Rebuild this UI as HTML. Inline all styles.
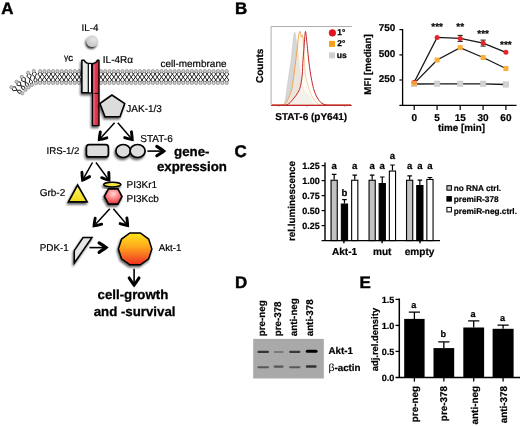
<!DOCTYPE html>
<html><head><meta charset="utf-8"><title>Figure</title>
<style>
html,body{margin:0;padding:0;background:#fff;}
svg{display:block;font-family:"Liberation Sans",Arial,Helvetica,sans-serif;fill:#000;text-rendering:geometricPrecision;filter:blur(0.35px);}
</style></head><body>
<svg width="520" height="427" viewBox="0 0 520 427">
<defs>
<filter id="sh" x="-40%" y="-40%" width="180%" height="180%"><feGaussianBlur in="SourceAlpha" stdDeviation="1.3"/><feOffset dx="-1.3" dy="1.5"/><feComponentTransfer><feFuncA type="linear" slope="0.62"/></feComponentTransfer><feMerge><feMergeNode/><feMergeNode in="SourceGraphic"/></feMerge></filter>
<linearGradient id="gy" x1="0" y1="0" x2="0" y2="1"><stop offset="0" stop-color="#fff668"/><stop offset="1" stop-color="#f0d91a"/></linearGradient>
<linearGradient id="gakt" x1="0" y1="0" x2="0" y2="1"><stop offset="0" stop-color="#ffe61e"/><stop offset="0.45" stop-color="#ffa51e"/><stop offset="1" stop-color="#ee2d24"/></linearGradient>
<radialGradient id="ghex" cx="0.5" cy="0.32" r="0.72"><stop offset="0" stop-color="#ffd6d4"/><stop offset="0.35" stop-color="#f99"/><stop offset="1" stop-color="#e2262c"/></radialGradient>
<radialGradient id="gil4" cx="0.6" cy="0.35" r="0.7"><stop offset="0" stop-color="#e6e6e6"/><stop offset="1" stop-color="#c4c4c4"/></radialGradient>
<linearGradient id="gred" x1="0" y1="0" x2="1" y2="0"><stop offset="0" stop-color="#ee4a64"/><stop offset="1" stop-color="#d8203c"/></linearGradient>
<filter id="sh2" x="-50%" y="-50%" width="200%" height="200%"><feGaussianBlur in="SourceAlpha" stdDeviation="1.2"/><feOffset dx="-1.5" dy="1.7"/><feComponentTransfer><feFuncA type="linear" slope="0.85"/></feComponentTransfer><feMerge><feMergeNode/><feMergeNode in="SourceGraphic"/></feMerge></filter>
<filter id="bl"><feGaussianBlur stdDeviation="0.7"/></filter>
</defs>
<rect width="520" height="427" fill="#fff"/>

<text x="1.3" y="14.0" font-size="16.9" font-weight="bold" text-anchor="start" stroke="#000" stroke-width="0.45">A</text>
<text x="234.9" y="14.0" font-size="16.9" font-weight="bold" text-anchor="start" stroke="#000" stroke-width="0.45">B</text>
<text x="234.6" y="157.2" font-size="16.9" font-weight="bold" text-anchor="start" stroke="#000" stroke-width="0.45">C</text>
<text x="235.1" y="287.5" font-size="16.9" font-weight="bold" text-anchor="start" stroke="#000" stroke-width="0.45">D</text>
<text x="359.5" y="287.5" font-size="16.9" font-weight="bold" text-anchor="start" stroke="#000" stroke-width="0.45">E</text>
<g id="membrane">
<path d="M40.10 71.15L37.95 74.10L40.10 77.05M40.10 71.15L42.25 74.10L40.10 77.05M40.10 82.95L42.25 80.00L40.10 77.05M40.10 82.95L37.95 80.00L40.10 77.05M44.44 71.15L42.29 74.10L44.44 77.05M44.44 71.15L46.59 74.10L44.44 77.05M44.44 82.95L46.59 80.00L44.44 77.05M44.44 82.95L42.29 80.00L44.44 77.05M48.77 71.15L46.62 74.10L48.77 77.05M48.77 71.15L50.92 74.10L48.77 77.05M48.77 82.95L50.92 80.00L48.77 77.05M48.77 82.95L46.62 80.00L48.77 77.05M53.11 71.15L50.96 74.10L53.11 77.05M53.11 71.15L55.26 74.10L53.11 77.05M53.11 82.95L55.26 80.00L53.11 77.05M53.11 82.95L50.96 80.00L53.11 77.05M57.45 71.15L55.30 74.10L57.45 77.05M57.45 71.15L59.60 74.10L57.45 77.05M57.45 82.95L59.60 80.00L57.45 77.05M57.45 82.95L55.30 80.00L57.45 77.05M61.79 71.15L59.64 74.10L61.79 77.05M61.79 71.15L63.94 74.10L61.79 77.05M61.79 82.95L63.94 80.00L61.79 77.05M61.79 82.95L59.64 80.00L61.79 77.05M66.12 71.15L63.97 74.10L66.12 77.05M66.12 71.15L68.27 74.10L66.12 77.05M66.12 82.95L68.27 80.00L66.12 77.05M66.12 82.95L63.97 80.00L66.12 77.05M70.46 71.15L68.31 74.10L70.46 77.05M70.46 71.15L72.61 74.10L70.46 77.05M70.46 82.95L72.61 80.00L70.46 77.05M70.46 82.95L68.31 80.00L70.46 77.05M74.80 71.15L72.65 74.10L74.80 77.05M74.80 71.15L76.95 74.10L74.80 77.05M74.80 82.95L76.95 80.00L74.80 77.05M74.80 82.95L72.65 80.00L74.80 77.05M79.13 71.15L76.98 74.10L79.13 77.05M79.13 71.15L81.28 74.10L79.13 77.05M79.13 82.95L81.28 80.00L79.13 77.05M79.13 82.95L76.98 80.00L79.13 77.05M83.47 71.15L81.32 74.10L83.47 77.05M83.47 71.15L85.62 74.10L83.47 77.05M83.47 82.95L85.62 80.00L83.47 77.05M83.47 82.95L81.32 80.00L83.47 77.05M87.81 71.15L85.66 74.10L87.81 77.05M87.81 71.15L89.96 74.10L87.81 77.05M87.81 82.95L89.96 80.00L87.81 77.05M87.81 82.95L85.66 80.00L87.81 77.05M92.15 71.15L90.00 74.10L92.15 77.05M92.15 71.15L94.30 74.10L92.15 77.05M92.15 82.95L94.30 80.00L92.15 77.05M92.15 82.95L90.00 80.00L92.15 77.05M96.48 71.15L94.33 74.10L96.48 77.05M96.48 71.15L98.63 74.10L96.48 77.05M96.48 82.95L98.63 80.00L96.48 77.05M96.48 82.95L94.33 80.00L96.48 77.05M100.82 71.15L98.67 74.10L100.82 77.05M100.82 71.15L102.97 74.10L100.82 77.05M100.82 82.95L102.97 80.00L100.82 77.05M100.82 82.95L98.67 80.00L100.82 77.05M105.16 71.15L103.01 74.10L105.16 77.05M105.16 71.15L107.31 74.10L105.16 77.05M105.16 82.95L107.31 80.00L105.16 77.05M105.16 82.95L103.01 80.00L105.16 77.05M109.50 71.15L107.35 74.10L109.50 77.05M109.50 71.15L111.65 74.10L109.50 77.05M109.50 82.95L111.65 80.00L109.50 77.05M109.50 82.95L107.35 80.00L109.50 77.05M113.83 71.15L111.68 74.10L113.83 77.05M113.83 71.15L115.98 74.10L113.83 77.05M113.83 82.95L115.98 80.00L113.83 77.05M113.83 82.95L111.68 80.00L113.83 77.05M118.17 71.15L116.02 74.10L118.17 77.05M118.17 71.15L120.32 74.10L118.17 77.05M118.17 82.95L120.32 80.00L118.17 77.05M118.17 82.95L116.02 80.00L118.17 77.05M122.51 71.15L120.36 74.10L122.51 77.05M122.51 71.15L124.66 74.10L122.51 77.05M122.51 82.95L124.66 80.00L122.51 77.05M122.51 82.95L120.36 80.00L122.51 77.05M126.84 71.15L124.69 74.10L126.84 77.05M126.84 71.15L128.99 74.10L126.84 77.05M126.84 82.95L128.99 80.00L126.84 77.05M126.84 82.95L124.69 80.00L126.84 77.05M131.18 71.15L129.03 74.10L131.18 77.05M131.18 71.15L133.33 74.10L131.18 77.05M131.18 82.95L133.33 80.00L131.18 77.05M131.18 82.95L129.03 80.00L131.18 77.05M135.52 71.15L133.37 74.10L135.52 77.05M135.52 71.15L137.67 74.10L135.52 77.05M135.52 82.95L137.67 80.00L135.52 77.05M135.52 82.95L133.37 80.00L135.52 77.05M139.86 71.15L137.71 74.10L139.86 77.05M139.86 71.15L142.01 74.10L139.86 77.05M139.86 82.95L142.01 80.00L139.86 77.05M139.86 82.95L137.71 80.00L139.86 77.05M144.19 71.15L142.04 74.10L144.19 77.05M144.19 71.15L146.34 74.10L144.19 77.05M144.19 82.95L146.34 80.00L144.19 77.05M144.19 82.95L142.04 80.00L144.19 77.05M148.53 71.15L146.38 74.10L148.53 77.05M148.53 71.15L150.68 74.10L148.53 77.05M148.53 82.95L150.68 80.00L148.53 77.05M148.53 82.95L146.38 80.00L148.53 77.05M152.87 71.15L150.72 74.10L152.87 77.05M152.87 71.15L155.02 74.10L152.87 77.05M152.87 82.95L155.02 80.00L152.87 77.05M152.87 82.95L150.72 80.00L152.87 77.05M157.20 71.15L155.05 74.10L157.20 77.05M157.20 71.15L159.35 74.10L157.20 77.05M157.20 82.95L159.35 80.00L157.20 77.05M157.20 82.95L155.05 80.00L157.20 77.05M161.54 71.15L159.39 74.10L161.54 77.05M161.54 71.15L163.69 74.10L161.54 77.05M161.54 82.95L163.69 80.00L161.54 77.05M161.54 82.95L159.39 80.00L161.54 77.05M165.88 71.15L163.73 74.10L165.88 77.05M165.88 71.15L168.03 74.10L165.88 77.05M165.88 82.95L168.03 80.00L165.88 77.05M165.88 82.95L163.73 80.00L165.88 77.05M170.22 71.15L168.07 74.10L170.22 77.05M170.22 71.15L172.37 74.10L170.22 77.05M170.22 82.95L172.37 80.00L170.22 77.05M170.22 82.95L168.07 80.00L170.22 77.05M174.55 71.15L172.40 74.10L174.55 77.05M174.55 71.15L176.70 74.10L174.55 77.05M174.55 82.95L176.70 80.00L174.55 77.05M174.55 82.95L172.40 80.00L174.55 77.05M178.89 71.15L176.74 74.10L178.89 77.05M178.89 71.15L181.04 74.10L178.89 77.05M178.89 82.95L181.04 80.00L178.89 77.05M178.89 82.95L176.74 80.00L178.89 77.05M183.23 71.15L181.08 74.10L183.23 77.05M183.23 71.15L185.38 74.10L183.23 77.05M183.23 82.95L185.38 80.00L183.23 77.05M183.23 82.95L181.08 80.00L183.23 77.05M187.57 71.15L185.42 74.10L187.57 77.05M187.57 71.15L189.72 74.10L187.57 77.05M187.57 82.95L189.72 80.00L187.57 77.05M187.57 82.95L185.42 80.00L187.57 77.05M191.90 71.15L189.75 74.10L191.90 77.05M191.90 71.15L194.05 74.10L191.90 77.05M191.90 82.95L194.05 80.00L191.90 77.05M191.90 82.95L189.75 80.00L191.90 77.05M196.24 71.15L194.09 74.10L196.24 77.05M196.24 71.15L198.39 74.10L196.24 77.05M196.24 82.95L198.39 80.00L196.24 77.05M196.24 82.95L194.09 80.00L196.24 77.05M200.58 71.15L198.43 74.10L200.58 77.05M200.58 71.15L202.73 74.10L200.58 77.05M200.58 82.95L202.73 80.00L200.58 77.05M200.58 82.95L198.43 80.00L200.58 77.05M204.91 71.15L202.76 74.10L204.91 77.05M204.91 71.15L207.06 74.10L204.91 77.05M204.91 82.95L207.06 80.00L204.91 77.05M204.91 82.95L202.76 80.00L204.91 77.05M209.25 71.15L207.10 74.10L209.25 77.05M209.25 71.15L211.40 74.10L209.25 77.05M209.25 82.95L211.40 80.00L209.25 77.05M209.25 82.95L207.10 80.00L209.25 77.05M213.59 71.15L211.44 74.10L213.59 77.05M213.59 71.15L215.74 74.10L213.59 77.05M213.59 82.95L215.74 80.00L213.59 77.05M213.59 82.95L211.44 80.00L213.59 77.05M217.93 71.15L215.78 74.10L217.93 77.05M217.93 71.15L220.08 74.10L217.93 77.05M217.93 82.95L220.08 80.00L217.93 77.05M217.93 82.95L215.78 80.00L217.93 77.05M222.26 71.15L220.11 74.10L222.26 77.05M222.26 71.15L224.41 74.10L222.26 77.05M222.26 82.95L224.41 80.00L222.26 77.05M222.26 82.95L220.11 80.00L222.26 77.05M226.60 71.15L224.45 74.10L226.60 77.05M226.60 71.15L228.75 74.10L226.60 77.05M226.60 82.95L228.75 80.00L226.60 77.05M226.60 82.95L224.45 80.00L226.60 77.05M33.80 71.00L32.09 74.46L34.90 77.10M33.80 71.00L36.61 73.64L34.90 77.10M36.00 83.20L37.12 79.85L34.90 77.10M36.00 83.20L33.78 80.45L34.90 77.10M28.10 72.80L26.86 76.51L30.00 78.85M28.10 72.80L31.24 75.14L30.00 78.85M31.90 84.90L32.57 81.37L30.00 78.85M31.90 84.90L29.33 82.38L30.00 78.85M21.80 76.90L21.58 80.74L25.20 82.05M21.80 76.90L25.42 78.21L25.20 82.05M28.60 87.20L28.32 83.69L25.20 82.05M28.60 87.20L25.48 85.56L25.20 82.05M16.50 81.70L17.20 85.45L21.00 85.80M16.50 81.70L20.30 82.05L21.00 85.80M25.50 89.90L24.39 86.59L21.00 85.80M25.50 89.90L22.11 89.11L21.00 85.80M11.50 87.20L13.07 90.73L16.90 90.25M11.50 87.20L15.33 86.72L16.90 90.25M22.30 93.30L20.44 90.29L16.90 90.25M22.30 93.30L18.76 93.26L16.90 90.25" stroke="#222" stroke-width="1.0" fill="none" stroke-linejoin="round"/>
<circle cx="40.10" cy="71.15" r="1.65" fill="#cacaca" stroke="#808080" stroke-width="0.65"/>
<circle cx="40.10" cy="82.95" r="1.65" fill="#cacaca" stroke="#808080" stroke-width="0.65"/>
<circle cx="44.44" cy="71.15" r="1.65" fill="#cacaca" stroke="#808080" stroke-width="0.65"/>
<circle cx="44.44" cy="82.95" r="1.65" fill="#cacaca" stroke="#808080" stroke-width="0.65"/>
<circle cx="48.77" cy="71.15" r="1.65" fill="#cacaca" stroke="#808080" stroke-width="0.65"/>
<circle cx="48.77" cy="82.95" r="1.65" fill="#cacaca" stroke="#808080" stroke-width="0.65"/>
<circle cx="53.11" cy="71.15" r="1.65" fill="#cacaca" stroke="#808080" stroke-width="0.65"/>
<circle cx="53.11" cy="82.95" r="1.65" fill="#cacaca" stroke="#808080" stroke-width="0.65"/>
<circle cx="57.45" cy="71.15" r="1.65" fill="#cacaca" stroke="#808080" stroke-width="0.65"/>
<circle cx="57.45" cy="82.95" r="1.65" fill="#cacaca" stroke="#808080" stroke-width="0.65"/>
<circle cx="61.79" cy="71.15" r="1.65" fill="#cacaca" stroke="#808080" stroke-width="0.65"/>
<circle cx="61.79" cy="82.95" r="1.65" fill="#cacaca" stroke="#808080" stroke-width="0.65"/>
<circle cx="66.12" cy="71.15" r="1.65" fill="#cacaca" stroke="#808080" stroke-width="0.65"/>
<circle cx="66.12" cy="82.95" r="1.65" fill="#cacaca" stroke="#808080" stroke-width="0.65"/>
<circle cx="70.46" cy="71.15" r="1.65" fill="#cacaca" stroke="#808080" stroke-width="0.65"/>
<circle cx="70.46" cy="82.95" r="1.65" fill="#cacaca" stroke="#808080" stroke-width="0.65"/>
<circle cx="74.80" cy="71.15" r="1.65" fill="#cacaca" stroke="#808080" stroke-width="0.65"/>
<circle cx="74.80" cy="82.95" r="1.65" fill="#cacaca" stroke="#808080" stroke-width="0.65"/>
<circle cx="79.13" cy="71.15" r="1.65" fill="#cacaca" stroke="#808080" stroke-width="0.65"/>
<circle cx="79.13" cy="82.95" r="1.65" fill="#cacaca" stroke="#808080" stroke-width="0.65"/>
<circle cx="83.47" cy="71.15" r="1.65" fill="#cacaca" stroke="#808080" stroke-width="0.65"/>
<circle cx="83.47" cy="82.95" r="1.65" fill="#cacaca" stroke="#808080" stroke-width="0.65"/>
<circle cx="87.81" cy="71.15" r="1.65" fill="#cacaca" stroke="#808080" stroke-width="0.65"/>
<circle cx="87.81" cy="82.95" r="1.65" fill="#cacaca" stroke="#808080" stroke-width="0.65"/>
<circle cx="92.15" cy="71.15" r="1.65" fill="#cacaca" stroke="#808080" stroke-width="0.65"/>
<circle cx="92.15" cy="82.95" r="1.65" fill="#cacaca" stroke="#808080" stroke-width="0.65"/>
<circle cx="96.48" cy="71.15" r="1.65" fill="#cacaca" stroke="#808080" stroke-width="0.65"/>
<circle cx="96.48" cy="82.95" r="1.65" fill="#cacaca" stroke="#808080" stroke-width="0.65"/>
<circle cx="100.82" cy="71.15" r="1.65" fill="#cacaca" stroke="#808080" stroke-width="0.65"/>
<circle cx="100.82" cy="82.95" r="1.65" fill="#cacaca" stroke="#808080" stroke-width="0.65"/>
<circle cx="105.16" cy="71.15" r="1.65" fill="#cacaca" stroke="#808080" stroke-width="0.65"/>
<circle cx="105.16" cy="82.95" r="1.65" fill="#cacaca" stroke="#808080" stroke-width="0.65"/>
<circle cx="109.50" cy="71.15" r="1.65" fill="#cacaca" stroke="#808080" stroke-width="0.65"/>
<circle cx="109.50" cy="82.95" r="1.65" fill="#cacaca" stroke="#808080" stroke-width="0.65"/>
<circle cx="113.83" cy="71.15" r="1.65" fill="#cacaca" stroke="#808080" stroke-width="0.65"/>
<circle cx="113.83" cy="82.95" r="1.65" fill="#cacaca" stroke="#808080" stroke-width="0.65"/>
<circle cx="118.17" cy="71.15" r="1.65" fill="#cacaca" stroke="#808080" stroke-width="0.65"/>
<circle cx="118.17" cy="82.95" r="1.65" fill="#cacaca" stroke="#808080" stroke-width="0.65"/>
<circle cx="122.51" cy="71.15" r="1.65" fill="#cacaca" stroke="#808080" stroke-width="0.65"/>
<circle cx="122.51" cy="82.95" r="1.65" fill="#cacaca" stroke="#808080" stroke-width="0.65"/>
<circle cx="126.84" cy="71.15" r="1.65" fill="#cacaca" stroke="#808080" stroke-width="0.65"/>
<circle cx="126.84" cy="82.95" r="1.65" fill="#cacaca" stroke="#808080" stroke-width="0.65"/>
<circle cx="131.18" cy="71.15" r="1.65" fill="#cacaca" stroke="#808080" stroke-width="0.65"/>
<circle cx="131.18" cy="82.95" r="1.65" fill="#cacaca" stroke="#808080" stroke-width="0.65"/>
<circle cx="135.52" cy="71.15" r="1.65" fill="#cacaca" stroke="#808080" stroke-width="0.65"/>
<circle cx="135.52" cy="82.95" r="1.65" fill="#cacaca" stroke="#808080" stroke-width="0.65"/>
<circle cx="139.86" cy="71.15" r="1.65" fill="#cacaca" stroke="#808080" stroke-width="0.65"/>
<circle cx="139.86" cy="82.95" r="1.65" fill="#cacaca" stroke="#808080" stroke-width="0.65"/>
<circle cx="144.19" cy="71.15" r="1.65" fill="#cacaca" stroke="#808080" stroke-width="0.65"/>
<circle cx="144.19" cy="82.95" r="1.65" fill="#cacaca" stroke="#808080" stroke-width="0.65"/>
<circle cx="148.53" cy="71.15" r="1.65" fill="#cacaca" stroke="#808080" stroke-width="0.65"/>
<circle cx="148.53" cy="82.95" r="1.65" fill="#cacaca" stroke="#808080" stroke-width="0.65"/>
<circle cx="152.87" cy="71.15" r="1.65" fill="#cacaca" stroke="#808080" stroke-width="0.65"/>
<circle cx="152.87" cy="82.95" r="1.65" fill="#cacaca" stroke="#808080" stroke-width="0.65"/>
<circle cx="157.20" cy="71.15" r="1.65" fill="#cacaca" stroke="#808080" stroke-width="0.65"/>
<circle cx="157.20" cy="82.95" r="1.65" fill="#cacaca" stroke="#808080" stroke-width="0.65"/>
<circle cx="161.54" cy="71.15" r="1.65" fill="#cacaca" stroke="#808080" stroke-width="0.65"/>
<circle cx="161.54" cy="82.95" r="1.65" fill="#cacaca" stroke="#808080" stroke-width="0.65"/>
<circle cx="165.88" cy="71.15" r="1.65" fill="#cacaca" stroke="#808080" stroke-width="0.65"/>
<circle cx="165.88" cy="82.95" r="1.65" fill="#cacaca" stroke="#808080" stroke-width="0.65"/>
<circle cx="170.22" cy="71.15" r="1.65" fill="#cacaca" stroke="#808080" stroke-width="0.65"/>
<circle cx="170.22" cy="82.95" r="1.65" fill="#cacaca" stroke="#808080" stroke-width="0.65"/>
<circle cx="174.55" cy="71.15" r="1.65" fill="#cacaca" stroke="#808080" stroke-width="0.65"/>
<circle cx="174.55" cy="82.95" r="1.65" fill="#cacaca" stroke="#808080" stroke-width="0.65"/>
<circle cx="178.89" cy="71.15" r="1.65" fill="#cacaca" stroke="#808080" stroke-width="0.65"/>
<circle cx="178.89" cy="82.95" r="1.65" fill="#cacaca" stroke="#808080" stroke-width="0.65"/>
<circle cx="183.23" cy="71.15" r="1.65" fill="#cacaca" stroke="#808080" stroke-width="0.65"/>
<circle cx="183.23" cy="82.95" r="1.65" fill="#cacaca" stroke="#808080" stroke-width="0.65"/>
<circle cx="187.57" cy="71.15" r="1.65" fill="#cacaca" stroke="#808080" stroke-width="0.65"/>
<circle cx="187.57" cy="82.95" r="1.65" fill="#cacaca" stroke="#808080" stroke-width="0.65"/>
<circle cx="191.90" cy="71.15" r="1.65" fill="#cacaca" stroke="#808080" stroke-width="0.65"/>
<circle cx="191.90" cy="82.95" r="1.65" fill="#cacaca" stroke="#808080" stroke-width="0.65"/>
<circle cx="196.24" cy="71.15" r="1.65" fill="#cacaca" stroke="#808080" stroke-width="0.65"/>
<circle cx="196.24" cy="82.95" r="1.65" fill="#cacaca" stroke="#808080" stroke-width="0.65"/>
<circle cx="200.58" cy="71.15" r="1.65" fill="#cacaca" stroke="#808080" stroke-width="0.65"/>
<circle cx="200.58" cy="82.95" r="1.65" fill="#cacaca" stroke="#808080" stroke-width="0.65"/>
<circle cx="204.91" cy="71.15" r="1.65" fill="#cacaca" stroke="#808080" stroke-width="0.65"/>
<circle cx="204.91" cy="82.95" r="1.65" fill="#cacaca" stroke="#808080" stroke-width="0.65"/>
<circle cx="209.25" cy="71.15" r="1.65" fill="#cacaca" stroke="#808080" stroke-width="0.65"/>
<circle cx="209.25" cy="82.95" r="1.65" fill="#cacaca" stroke="#808080" stroke-width="0.65"/>
<circle cx="213.59" cy="71.15" r="1.65" fill="#cacaca" stroke="#808080" stroke-width="0.65"/>
<circle cx="213.59" cy="82.95" r="1.65" fill="#cacaca" stroke="#808080" stroke-width="0.65"/>
<circle cx="217.93" cy="71.15" r="1.65" fill="#cacaca" stroke="#808080" stroke-width="0.65"/>
<circle cx="217.93" cy="82.95" r="1.65" fill="#cacaca" stroke="#808080" stroke-width="0.65"/>
<circle cx="222.26" cy="71.15" r="1.65" fill="#cacaca" stroke="#808080" stroke-width="0.65"/>
<circle cx="222.26" cy="82.95" r="1.65" fill="#cacaca" stroke="#808080" stroke-width="0.65"/>
<circle cx="226.60" cy="71.15" r="1.65" fill="#cacaca" stroke="#808080" stroke-width="0.65"/>
<circle cx="226.60" cy="82.95" r="1.65" fill="#cacaca" stroke="#808080" stroke-width="0.65"/>
<circle cx="33.80" cy="71.00" r="1.65" fill="#cacaca" stroke="#808080" stroke-width="0.65"/>
<circle cx="36.00" cy="83.20" r="1.65" fill="#cacaca" stroke="#808080" stroke-width="0.65"/>
<circle cx="28.10" cy="72.80" r="1.65" fill="#cacaca" stroke="#808080" stroke-width="0.65"/>
<circle cx="31.90" cy="84.90" r="1.65" fill="#cacaca" stroke="#808080" stroke-width="0.65"/>
<circle cx="21.80" cy="76.90" r="1.65" fill="#cacaca" stroke="#808080" stroke-width="0.65"/>
<circle cx="28.60" cy="87.20" r="1.65" fill="#cacaca" stroke="#808080" stroke-width="0.65"/>
<circle cx="16.50" cy="81.70" r="1.65" fill="#cacaca" stroke="#808080" stroke-width="0.65"/>
<circle cx="25.50" cy="89.90" r="1.65" fill="#cacaca" stroke="#808080" stroke-width="0.65"/>
<circle cx="11.50" cy="87.20" r="1.65" fill="#cacaca" stroke="#808080" stroke-width="0.65"/>
<circle cx="22.30" cy="93.30" r="1.65" fill="#cacaca" stroke="#808080" stroke-width="0.65"/>
</g>
<text x="81.6" y="31.4" font-size="9.8" stroke="#000" stroke-width="0.18" text-anchor="start">IL-4</text>
<circle cx="92.2" cy="41.1" r="5.9" fill="url(#gil4)" filter="url(#sh2)"/>
<text x="63.9" y="59.9" font-size="8.6" stroke="#000" stroke-width="0.15">γ<tspan x="68.3" y="60.7" font-size="9.6" stroke-width="0.3">c</tspan></text>
<text x="102.8" y="63.0" font-size="10.0" stroke="#000" stroke-width="0.18" text-anchor="start">IL-4Rα</text>
<text x="160.4" y="66.9" font-size="10.0" stroke="#000" stroke-width="0.18" text-anchor="start">cell-membrane</text>
<g filter="url(#sh)">
<path d="M81.9 60.2 L84.2 60.2 Q85.6 63.6 90.4 63.6 L91.4 63.6 L91.4 92.7 L81.9 92.7 Z" fill="#e9e9e9" stroke="#000" stroke-width="1.5" stroke-linejoin="round"/>
<path d="M88.3 63.8 L88.3 92.5" stroke="#000" stroke-width="1.2"/>
<rect x="89" y="64.3" width="2" height="28" fill="#fff"/>
<path d="M92.5 63.6 Q96.6 63.4 97.3 60.2 L98.95 60.2 L98.95 125.6 L92.5 125.6 Z" fill="url(#gred)" stroke="#000" stroke-width="1.4" stroke-linejoin="round"/>
<path d="M92.5 93.4 L98.9 93.4" stroke="#000" stroke-width="1"/>
<path d="M94 65 L94 124.5" stroke="#f08090" stroke-width="1.2" opacity="0.7"/>
</g>
<path d="M111.9 95.0 L124.7 103.5 L120.0 116.7 L105.0 116.7 L99.9 103.5 Z" fill="#dcdcdc" stroke="#000" stroke-width="1.6" stroke-linejoin="miter" filter="url(#sh)"/>
<text x="126.3" y="112.2" font-size="10.0" stroke="#000" stroke-width="0.18" text-anchor="start">JAK-1/3</text>
<path d="M114.60 122.80L99.14 139.71" stroke="#000" stroke-width="1.5" fill="none"/>
<path d="M100.35 131.87Q99.36 137.38 99.27 139.57Q101.44 139.28 106.84 137.81" stroke="#000" stroke-width="2.9" fill="none" stroke-linejoin="miter" stroke-miterlimit="10" stroke-linecap="round"/>
<path d="M117.80 122.80L132.38 139.69" stroke="#000" stroke-width="1.5" fill="none"/>
<path d="M124.73 137.57Q130.09 139.20 132.25 139.55Q132.22 137.36 131.40 131.82" stroke="#000" stroke-width="2.9" fill="none" stroke-linejoin="miter" stroke-miterlimit="10" stroke-linecap="round"/>
<text x="46.6" y="154.0" font-size="9.7" stroke="#000" stroke-width="0.18" text-anchor="start">IRS-1/2</text>
<rect x="86.4" y="144.65" width="22.0" height="12.3" rx="2.8" fill="#dcdcdc" stroke="#000" stroke-width="1.7" filter="url(#sh)"/>
<g filter="url(#sh)"><ellipse cx="123.2" cy="151.0" rx="7.3" ry="6.5" fill="#dcdcdc" stroke="#000" stroke-width="1.7"/><ellipse cx="137.6" cy="151.0" rx="7.5" ry="6.5" fill="#dedede" stroke="#000" stroke-width="1.7"/></g>
<text x="140.3" y="142.0" font-size="10.0" stroke="#000" stroke-width="0.18" text-anchor="start">STAT-6</text>
<path d="M147.40 151.10L164.20 151.10" stroke="#000" stroke-width="1.6" fill="none"/>
<path d="M156.80 155.80Q161.97 152.60 163.84 151.10Q161.97 149.60 156.80 146.40" stroke="#000" stroke-width="3.1" fill="none" stroke-linejoin="miter" stroke-miterlimit="10" stroke-linecap="round"/>
<text x="174.1" y="155.9" font-size="13.25" font-weight="bold" text-anchor="start" stroke="#000" stroke-width="0.3">gene-</text>
<text x="156.9" y="171.1" font-size="13.25" font-weight="bold" text-anchor="start" stroke="#000" stroke-width="0.3">expression</text>
<path d="M92.50 162.50L82.49 180.20" stroke="#000" stroke-width="1.5" fill="none"/>
<path d="M81.91 172.29Q82.19 177.88 82.59 180.03Q84.64 179.27 89.57 176.62" stroke="#000" stroke-width="2.9" fill="none" stroke-linejoin="miter" stroke-miterlimit="10" stroke-linecap="round"/>
<path d="M96.00 162.50L109.13 180.36" stroke="#000" stroke-width="1.5" fill="none"/>
<path d="M101.67 177.64Q106.88 179.68 109.01 180.20Q109.15 178.01 108.76 172.43" stroke="#000" stroke-width="2.9" fill="none" stroke-linejoin="miter" stroke-miterlimit="10" stroke-linecap="round"/>
<text x="39.7" y="196.3" font-size="10.0" stroke="#000" stroke-width="0.18" text-anchor="start">Grb-2</text>
<path d="M77.6 185.0 L87.2 201.9 L68.4 201.9 Z" fill="url(#gy)" stroke="#000" stroke-width="1.6" stroke-linejoin="miter" filter="url(#sh)"/>
<ellipse cx="112.3" cy="184.6" rx="8.6" ry="2.3" fill="url(#gy)" stroke="#000" stroke-width="1.5" filter="url(#sh)"/>
<path d="M104.3 196.5 L108.5 188.9 L117.9 188.9 L122.0 196.5 L117.9 204.1 L108.5 204.1 Z" fill="url(#ghex)" stroke="#000" stroke-width="1.6" stroke-linejoin="miter" filter="url(#sh)"/>
<text x="126.5" y="187.7" font-size="10.0" stroke="#000" stroke-width="0.18" text-anchor="start">PI3Kr1</text>
<text x="126.5" y="202.0" font-size="10.0" stroke="#000" stroke-width="0.18" text-anchor="start">PI3Kcb</text>
<path d="M109.80 208.80L93.94 226.01" stroke="#000" stroke-width="1.5" fill="none"/>
<path d="M95.18 218.18Q94.17 223.68 94.07 225.87Q96.24 225.59 101.65 224.14" stroke="#000" stroke-width="2.9" fill="none" stroke-linejoin="miter" stroke-miterlimit="10" stroke-linecap="round"/>
<path d="M113.40 208.80L127.78 225.79" stroke="#000" stroke-width="1.5" fill="none"/>
<path d="M120.16 223.60Q125.50 225.27 127.66 225.64Q127.65 223.45 126.88 217.91" stroke="#000" stroke-width="2.9" fill="none" stroke-linejoin="miter" stroke-miterlimit="10" stroke-linecap="round"/>
<text x="39.7" y="250.9" font-size="9.9" stroke="#000" stroke-width="0.18" text-anchor="start">PDK-1</text>
<path d="M83.1 237.5 L92.0 237.5 L74.3 263.0 L74.3 250.7 Z" fill="#e4e4e4" stroke="#000" stroke-width="1.5" stroke-linejoin="miter" filter="url(#sh)"/>
<path d="M89.40 247.60L106.50 247.60" stroke="#000" stroke-width="1.6" fill="none"/>
<path d="M99.10 252.30Q104.27 249.10 106.12 247.60Q104.27 246.10 99.10 242.90" stroke="#000" stroke-width="3.2" fill="none" stroke-linejoin="miter" stroke-miterlimit="10" stroke-linecap="round"/>
<polygon points="151.85,248.90 148.65,258.75 140.28,264.83 129.92,264.83 121.55,258.75 118.35,248.90 121.55,239.05 129.92,232.97 140.28,232.97 148.65,239.05" fill="url(#gakt)" stroke="#000" stroke-width="1.5" stroke-linejoin="miter" filter="url(#sh)"/>
<text x="158.8" y="250.8" font-size="9.7" stroke="#000" stroke-width="0.18" text-anchor="start">Akt-1</text>
<path d="M134.10 268.80L134.10 285.40" stroke="#000" stroke-width="1.6" fill="none"/>
<path d="M129.20 278.00Q132.53 283.17 134.10 285.05Q135.67 283.17 139.00 278.00" stroke="#000" stroke-width="3.1" fill="none" stroke-linejoin="miter" stroke-miterlimit="10" stroke-linecap="round"/>
<text x="97.6" y="299.2" font-size="13.25" font-weight="bold" text-anchor="start" stroke="#000" stroke-width="0.3">cell-growth</text>
<text x="93.7" y="315.8" font-size="13.25" font-weight="bold" text-anchor="start" stroke="#000" stroke-width="0.3">and -survival</text>
<g id="hist">
<path d="M271.1 105.4 V26.5 H351.8" stroke="#a4a4a4" stroke-width="0.9" fill="none"/>
<path d="M272.00 105.20C273.28 105.20 278.14 105.25 280.00 105.20C281.86 105.15 282.70 106.05 283.60 104.90C284.50 103.75 285.04 100.94 285.60 98.00C286.16 95.06 286.52 90.50 287.10 86.50C287.68 82.50 288.56 77.22 289.20 73.00C289.84 68.78 290.60 64.04 291.10 60.10C291.60 56.16 291.90 52.14 292.30 48.40C292.70 44.66 293.23 39.32 293.60 36.70C293.97 34.08 294.25 32.00 294.60 32.00C294.95 32.00 295.37 34.08 295.80 36.70C296.23 39.32 296.84 45.02 297.30 48.40C297.76 51.78 298.19 53.54 298.70 57.80C299.21 62.06 299.81 70.41 300.50 75.00C301.19 79.59 302.12 83.73 303.00 86.50C303.88 89.27 304.88 90.46 306.00 92.30C307.12 94.14 308.88 96.34 310.00 98.00C311.12 99.66 312.04 101.60 313.00 102.70C313.96 103.80 314.72 104.50 316.00 104.90C317.28 105.30 315.40 105.15 321.00 105.20C326.60 105.25 346.20 105.20 351.00 105.20Z" fill="#d6d6d6" stroke="#c4c4c4" stroke-width="0.5"/>
<path d="M272.00 105.20C273.12 105.20 277.24 105.25 279.00 105.20C280.76 105.15 281.88 105.30 283.00 104.90C284.12 104.50 285.10 103.80 286.00 102.70C286.90 101.60 287.83 99.66 288.60 98.00C289.37 96.34 290.21 94.14 290.80 92.30C291.39 90.46 291.76 89.59 292.30 86.50C292.84 83.41 293.64 77.22 294.20 73.00C294.76 68.78 295.30 64.04 295.80 60.10C296.30 56.16 296.87 52.14 297.30 48.40C297.73 44.66 298.12 39.42 298.50 36.70C298.88 33.98 299.36 31.90 299.70 31.40C300.04 30.90 300.36 32.77 300.60 33.60C300.84 34.43 300.93 36.34 301.20 36.60C301.47 36.86 301.98 34.66 302.30 35.20C302.62 35.74 302.96 37.89 303.20 40.00C303.44 42.11 303.61 45.20 303.80 48.40C303.99 51.60 304.14 55.74 304.40 60.00C304.66 64.26 304.76 70.76 305.40 75.00C306.04 79.24 307.63 83.73 308.40 86.50C309.17 89.27 309.46 90.46 310.20 92.30C310.94 94.14 311.99 96.34 313.00 98.00C314.01 99.66 315.30 101.60 316.50 102.70C317.70 103.80 318.98 104.50 320.50 104.90C322.02 105.30 321.12 105.15 326.00 105.20C330.88 105.25 347.00 105.20 351.00 105.20Z" fill="#fdf3e0" fill-opacity="0.55" stroke="#f0a040" stroke-width="0.9"/>
<path d="M272.00 105.20C273.60 105.20 279.68 105.25 282.00 105.20C284.32 105.15 285.22 105.30 286.50 104.90C287.78 104.50 288.80 103.80 290.00 102.70C291.20 101.60 292.72 99.66 294.00 98.00C295.28 96.34 296.98 94.14 298.00 92.30C299.02 90.46 299.73 89.27 300.40 86.50C301.07 83.73 301.78 79.22 302.20 75.00C302.62 70.78 302.71 64.36 303.00 60.10C303.29 55.84 303.71 52.14 304.00 48.40C304.29 44.66 304.56 39.42 304.80 36.70C305.04 33.98 305.26 31.40 305.50 31.40C305.74 31.40 305.98 33.98 306.30 36.70C306.62 39.42 307.12 44.66 307.50 48.40C307.88 52.14 308.24 56.16 308.70 60.10C309.16 64.04 309.71 68.78 310.40 73.00C311.09 77.22 312.30 83.41 313.00 86.50C313.70 89.59 314.10 90.46 314.80 92.30C315.50 94.14 316.41 96.34 317.40 98.00C318.39 99.66 319.67 101.60 321.00 102.70C322.33 103.80 324.10 104.50 325.70 104.90C327.30 105.30 326.95 105.15 331.00 105.20C335.05 105.25 347.80 105.20 351.00 105.20Z" fill="#ffffff" fill-opacity="0.45" stroke="#c4262c" stroke-width="1.0"/>
<path d="M271.1 105.5H351.8" stroke="#c0262b" stroke-width="1.0"/>
<path d="M278.7 105.5v1.6" stroke="#888" stroke-width="0.6"/>
<path d="M307.0 105.5v1.6" stroke="#888" stroke-width="0.6"/>
<path d="M345.0 105.5v1.6" stroke="#888" stroke-width="0.6"/>
<circle cx="332.4" cy="32.9" r="3.3" fill="#e6141e" stroke="#b4101a" stroke-width="0.6"/>
<text x="337.3" y="35.1" font-size="8.4" font-weight="bold" text-anchor="start" stroke="#000" stroke-width="0.25">1°</text>
<rect x="329" y="40.9" width="6" height="6" fill="#f7a11a"/>
<text x="337.3" y="46.4" font-size="8.4" font-weight="bold" text-anchor="start" stroke="#000" stroke-width="0.25">2°</text>
<rect x="329" y="52.4" width="6" height="6" fill="#cfcfcf"/>
<text x="336.8" y="57.9" font-size="8.6" font-weight="bold" text-anchor="start" stroke="#000" stroke-width="0.25">us</text>
<text x="263.0" y="65.8" font-size="10" font-weight="bold" stroke="#000" stroke-width="0.2" text-anchor="middle" transform="rotate(-90 263.0 65.8)">Counts</text>
<text x="311.2" y="120.0" font-size="10" font-weight="bold" stroke="#000" stroke-width="0.2" text-anchor="middle">STAT-6 (pY641)</text>
</g>
<g id="line">
<path d="M402.6 29.0V105.3M399.40000000000003 105.3H516.5" stroke="#000" stroke-width="1.3" fill="none"/>
<path d="M399.40000000000003 29.6H402.6" stroke="#000" stroke-width="1.2"/>
<text x="395.2" y="31.400000000000002" font-size="9.9" font-weight="bold" stroke="#000" stroke-width="0.2" text-anchor="end">750</text>
<path d="M399.40000000000003 54.9H402.6" stroke="#000" stroke-width="1.2"/>
<text x="395.2" y="56.699999999999996" font-size="9.9" font-weight="bold" stroke="#000" stroke-width="0.2" text-anchor="end">500</text>
<path d="M399.40000000000003 80.0H402.6" stroke="#000" stroke-width="1.2"/>
<text x="395.2" y="81.8" font-size="9.9" font-weight="bold" stroke="#000" stroke-width="0.2" text-anchor="end">250</text>
<path d="M414.2 105.3v4.6" stroke="#000" stroke-width="1.2"/>
<text x="414.2" y="121.0" font-size="10" font-weight="bold" stroke="#000" stroke-width="0.2" text-anchor="middle">0</text>
<path d="M437.1 105.3v4.6" stroke="#000" stroke-width="1.2"/>
<text x="437.1" y="121.0" font-size="10" font-weight="bold" stroke="#000" stroke-width="0.2" text-anchor="middle">5</text>
<path d="M460.2 105.3v4.6" stroke="#000" stroke-width="1.2"/>
<text x="460.2" y="121.0" font-size="10" font-weight="bold" stroke="#000" stroke-width="0.2" text-anchor="middle">15</text>
<path d="M483.1 105.3v4.6" stroke="#000" stroke-width="1.2"/>
<text x="483.1" y="121.0" font-size="10" font-weight="bold" stroke="#000" stroke-width="0.2" text-anchor="middle">30</text>
<path d="M505.9 105.3v4.6" stroke="#000" stroke-width="1.2"/>
<text x="505.9" y="121.0" font-size="10" font-weight="bold" stroke="#000" stroke-width="0.2" text-anchor="middle">60</text>
<text x="461.5" y="131.4" font-size="9.85" font-weight="bold" stroke="#000" stroke-width="0.2" text-anchor="middle">time [min]</text>
<text x="370.6" y="64.4" font-size="9.8" font-weight="bold" stroke="#000" stroke-width="0.2" text-anchor="middle" transform="rotate(-90 370.6 64.4)">MFI [median]</text>
<path d="M414.2 84.0L437.1 83.8L460.2 83.8L483.1 83.8L505.9 84.5" stroke="#161616" stroke-width="1.3" fill="none"/>
<path d="M414.2 83.4L437.1 60.0L460.2 47.6L483.1 57.5L505.9 68.5" stroke="#161616" stroke-width="1.3" fill="none"/>
<path d="M414.2 82.3L437.1 37.4L460.2 38.4L483.1 43.1L505.9 52.3" stroke="#161616" stroke-width="1.3" fill="none"/>
<rect x="411.4" y="81.2" width="5.6" height="5.6" fill="#d2d2d2" stroke="#c4c4c4" stroke-width="0.4"/>
<rect x="434.3" y="81.0" width="5.6" height="5.6" fill="#d2d2d2" stroke="#c4c4c4" stroke-width="0.4"/>
<rect x="457.4" y="81.0" width="5.6" height="5.6" fill="#d2d2d2" stroke="#c4c4c4" stroke-width="0.4"/>
<rect x="480.3" y="81.0" width="5.6" height="5.6" fill="#d2d2d2" stroke="#c4c4c4" stroke-width="0.4"/>
<rect x="503.1" y="81.7" width="5.6" height="5.6" fill="#d2d2d2" stroke="#c4c4c4" stroke-width="0.4"/>
<path d="M460.2 35.4V41.4M457.59999999999997 35.4h5.2M457.59999999999997 41.4h5.2" stroke="#1a1a1a" stroke-width="1.0" fill="none"/>
<path d="M483.1 40.1V46.1M480.5 40.1h5.2M480.5 46.1h5.2" stroke="#1a1a1a" stroke-width="1.0" fill="none"/>
<circle cx="414.2" cy="82.3" r="2.5" fill="#e3262b"/>
<circle cx="437.1" cy="37.4" r="2.5" fill="#e3262b"/>
<circle cx="460.2" cy="38.4" r="2.5" fill="#e3262b"/>
<circle cx="483.1" cy="43.1" r="2.5" fill="#e3262b"/>
<circle cx="505.9" cy="52.3" r="2.5" fill="#e3262b"/>
<rect x="411.7" y="80.9" width="5" height="5" fill="#f9b03a" fill-opacity="0.85"/>
<rect x="434.6" y="57.5" width="5" height="5" fill="#f9b03a"/>
<rect x="457.7" y="45.1" width="5" height="5" fill="#f9b03a"/>
<rect x="480.6" y="55.0" width="5" height="5" fill="#f9b03a"/>
<rect x="503.4" y="66.0" width="5" height="5" fill="#f9b03a"/>
<text x="437.1" y="30.3" font-size="10" font-weight="bold" stroke="#000" stroke-width="0.2" text-anchor="middle">***</text>
<text x="460.2" y="30.3" font-size="10" font-weight="bold" stroke="#000" stroke-width="0.2" text-anchor="middle">**</text>
<text x="483.1" y="37.0" font-size="10" font-weight="bold" stroke="#000" stroke-width="0.2" text-anchor="middle">***</text>
<text x="505.9" y="48.3" font-size="10" font-weight="bold" stroke="#000" stroke-width="0.2" text-anchor="middle">***</text>
</g>
<g id="barC">
<path d="M334.15 179.70V174.30M331.85 174.30h4.6" stroke="#000" stroke-width="1.2" fill="none"/>
<rect x="331.05" y="180.25" width="6.20" height="60.35" fill="#c2c2c2" stroke="#000" stroke-width="1.1"/>
<path d="M344.45 203.50V199.70M342.15 199.70h4.6" stroke="#000" stroke-width="1.2" fill="none"/>
<rect x="341.35" y="204.05" width="6.20" height="36.55" fill="#000" stroke="#000" stroke-width="1.1"/>
<path d="M354.75 179.70V175.20M352.45 175.20h4.6" stroke="#000" stroke-width="1.2" fill="none"/>
<rect x="351.65" y="180.25" width="6.20" height="60.35" fill="#fff" stroke="#000" stroke-width="1.1"/>
<path d="M372.15 179.70V175.20M369.85 175.20h4.6" stroke="#000" stroke-width="1.2" fill="none"/>
<rect x="369.05" y="180.25" width="6.20" height="60.35" fill="#c2c2c2" stroke="#000" stroke-width="1.1"/>
<path d="M382.25 183.00V177.00M379.95 177.00h4.6" stroke="#000" stroke-width="1.2" fill="none"/>
<rect x="379.15" y="183.55" width="6.20" height="57.05" fill="#000" stroke="#000" stroke-width="1.1"/>
<path d="M392.45 170.50V165.00M390.15 165.00h4.6" stroke="#000" stroke-width="1.2" fill="none"/>
<rect x="389.35" y="171.05" width="6.20" height="69.55" fill="#fff" stroke="#000" stroke-width="1.1"/>
<path d="M409.65 179.70V175.80M407.35 175.80h4.6" stroke="#000" stroke-width="1.2" fill="none"/>
<rect x="406.55" y="180.25" width="6.20" height="60.35" fill="#c2c2c2" stroke="#000" stroke-width="1.1"/>
<path d="M419.85 185.00V180.10M417.55 180.10h4.6" stroke="#000" stroke-width="1.2" fill="none"/>
<rect x="416.75" y="185.55" width="6.20" height="55.05" fill="#000" stroke="#000" stroke-width="1.1"/>
<path d="M429.95 178.90V177.50M427.65 177.50h4.6" stroke="#000" stroke-width="1.2" fill="none"/>
<rect x="426.85" y="179.45" width="6.20" height="61.15" fill="#fff" stroke="#000" stroke-width="1.1"/>
<path d="M325.0 162.5V240.6M321.6 240.6H440M343.9 240.6v2.6M382.1 240.6v2.6M420.0 240.6v2.6" stroke="#000" stroke-width="1.4" fill="none"/>
<path d="M321.6 225.60H325.0" stroke="#000" stroke-width="1.2"/>
<text x="319.8" y="228.79999999999998" font-size="9.0" font-weight="bold" stroke="#000" stroke-width="0.2" text-anchor="end">0.25</text>
<path d="M321.6 210.60H325.0" stroke="#000" stroke-width="1.2"/>
<text x="319.8" y="213.79999999999998" font-size="9.0" font-weight="bold" stroke="#000" stroke-width="0.2" text-anchor="end">0.50</text>
<path d="M321.6 195.60H325.0" stroke="#000" stroke-width="1.2"/>
<text x="319.8" y="198.79999999999998" font-size="9.0" font-weight="bold" stroke="#000" stroke-width="0.2" text-anchor="end">0.75</text>
<path d="M321.6 180.60H325.0" stroke="#000" stroke-width="1.2"/>
<text x="319.8" y="183.79999999999998" font-size="9.0" font-weight="bold" stroke="#000" stroke-width="0.2" text-anchor="end">1.00</text>
<path d="M321.6 165.60H325.0" stroke="#000" stroke-width="1.2"/>
<text x="319.8" y="168.79999999999998" font-size="9.0" font-weight="bold" stroke="#000" stroke-width="0.2" text-anchor="end">1.25</text>
<text x="334.15" y="168.6" font-size="9.6" font-weight="bold" stroke="#000" stroke-width="0.2" text-anchor="middle">a</text>
<text x="344.45" y="196.4" font-size="9.6" font-weight="bold" stroke="#000" stroke-width="0.2" text-anchor="middle">b</text>
<text x="354.75" y="168.6" font-size="9.6" font-weight="bold" stroke="#000" stroke-width="0.2" text-anchor="middle">a</text>
<text x="372.15" y="168.6" font-size="9.6" font-weight="bold" stroke="#000" stroke-width="0.2" text-anchor="middle">a</text>
<text x="382.25" y="168.6" font-size="9.6" font-weight="bold" stroke="#000" stroke-width="0.2" text-anchor="middle">a</text>
<text x="392.45" y="159.3" font-size="9.6" font-weight="bold" stroke="#000" stroke-width="0.2" text-anchor="middle">a</text>
<text x="409.65" y="168.6" font-size="9.6" font-weight="bold" stroke="#000" stroke-width="0.2" text-anchor="middle">a</text>
<text x="419.84999999999997" y="168.6" font-size="9.6" font-weight="bold" stroke="#000" stroke-width="0.2" text-anchor="middle">a</text>
<text x="429.95" y="168.6" font-size="9.6" font-weight="bold" stroke="#000" stroke-width="0.2" text-anchor="middle">a</text>
<text x="344.6" y="255.3" font-size="10.1" font-weight="bold" stroke="#000" stroke-width="0.2" text-anchor="middle">Akt-1</text>
<text x="382.2" y="255.3" font-size="10.1" font-weight="bold" stroke="#000" stroke-width="0.2" text-anchor="middle">mut</text>
<text x="419.6" y="255.3" font-size="10.1" font-weight="bold" stroke="#000" stroke-width="0.2" text-anchor="middle">empty</text>
<text x="294.9" y="201.0" font-size="9.9" font-weight="bold" stroke="#000" stroke-width="0.2" text-anchor="middle" transform="rotate(-90 294.9 201.0)">rel.luminescence</text>
<rect x="446.9" y="185.7" width="4.5" height="4.5" fill="#c2c2c2" stroke="#000" stroke-width="1.0"/>
<rect x="446.9" y="196.6" width="4.5" height="4.5" fill="#000" stroke="#000" stroke-width="1.0"/>
<rect x="446.9" y="207.4" width="4.5" height="4.5" fill="#fff" stroke="#000" stroke-width="1.0"/>
<text x="453.7" y="190.8" font-size="8.25" font-weight="bold" stroke="#000" stroke-width="0.2" text-anchor="start">no RNA ctrl.</text>
<text x="453.7" y="202.3" font-size="8.25" font-weight="bold" stroke="#000" stroke-width="0.2" text-anchor="start">premiR-378</text>
<text x="453.7" y="213.7" font-size="8.25" font-weight="bold" stroke="#000" stroke-width="0.2" text-anchor="start">premiR-neg.ctrl.</text>
</g>
<g id="blot">
<rect x="253.2" y="338.9" width="70.6" height="39.6" fill="#a9a9a9"/>
<g filter="url(#bl)">
<rect x="257.4" y="350.75" width="11.60" height="2.3" rx="1.15" fill="#343434" opacity="1"/>
<rect x="273.8" y="350.90" width="9.80" height="2.0" rx="1.00" fill="#7a7a7a" opacity="1"/>
<rect x="289.2" y="350.75" width="11.20" height="2.3" rx="1.15" fill="#383838" opacity="1"/>
<rect x="305.8" y="349.75" width="11.80" height="3.1" rx="1.55" fill="#050505" opacity="1"/>
<rect x="257.4" y="366.25" width="11.60" height="2.1" rx="1.05" fill="#585858" opacity="1"/>
<rect x="273.6" y="365.55" width="10.00" height="2.1" rx="1.05" fill="#565656" opacity="1"/>
<rect x="289.2" y="366.25" width="11.20" height="2.1" rx="1.05" fill="#585858" opacity="1"/>
<rect x="305.8" y="365.35" width="10.80" height="2.5" rx="1.25" fill="#303030" opacity="1"/>
</g>
<text x="265.2" y="336.3" font-size="9.8" font-weight="bold" stroke="#000" stroke-width="0.2" text-anchor="start" transform="rotate(-90 265.2 336.3)">pre-neg</text>
<text x="281.2" y="336.3" font-size="9.8" font-weight="bold" stroke="#000" stroke-width="0.2" text-anchor="start" transform="rotate(-90 281.2 336.3)">pre-378</text>
<text x="297.0" y="336.3" font-size="9.8" font-weight="bold" stroke="#000" stroke-width="0.2" text-anchor="start" transform="rotate(-90 297.0 336.3)">anti-neg</text>
<text x="313.2" y="336.3" font-size="9.8" font-weight="bold" stroke="#000" stroke-width="0.2" text-anchor="start" transform="rotate(-90 313.2 336.3)">anti-378</text>
<text x="328.4" y="354.4" font-size="9.8" font-weight="bold" stroke="#000" stroke-width="0.2" text-anchor="start">Akt-1</text>
<text x="328.4" y="371.3" font-size="9.8"><tspan font-size="10.5">β</tspan><tspan font-weight="bold" stroke="#000" stroke-width="0.2">-actin</tspan></text>
</g>
<g id="barE">
<path d="M414.40 318.90V312.20M408.80 312.20h11.2" stroke="#000" stroke-width="1.3" fill="none"/>
<rect x="404.2" y="318.90" width="20.40" height="58.50" fill="#000"/>
<path d="M414.40 377.4v4.2" stroke="#000" stroke-width="1.3"/>
<path d="M443.85 348.10V341.90M438.25 341.90h11.2" stroke="#000" stroke-width="1.3" fill="none"/>
<rect x="433.5" y="348.10" width="20.70" height="29.30" fill="#000"/>
<path d="M443.85 377.4v4.2" stroke="#000" stroke-width="1.3"/>
<path d="M473.70 327.50V320.90M468.10 320.90h11.2" stroke="#000" stroke-width="1.3" fill="none"/>
<rect x="463.3" y="327.50" width="20.80" height="49.90" fill="#000"/>
<path d="M473.70 377.4v4.2" stroke="#000" stroke-width="1.3"/>
<path d="M503.10 328.80V325.10M497.50 325.10h11.2" stroke="#000" stroke-width="1.3" fill="none"/>
<rect x="492.6" y="328.80" width="21.00" height="48.60" fill="#000"/>
<path d="M503.10 377.4v4.2" stroke="#000" stroke-width="1.3"/>
<path d="M399.3 298.6V377.4M395.5 377.4H520" stroke="#000" stroke-width="1.5" fill="none"/>
<path d="M395.5 351.40H399.3" stroke="#000" stroke-width="1.3"/>
<path d="M395.5 325.40H399.3" stroke="#000" stroke-width="1.3"/>
<path d="M395.5 299.40H399.3" stroke="#000" stroke-width="1.3"/>
<text x="394.4" y="380.7" font-size="9.1" font-weight="bold" stroke="#000" stroke-width="0.2" text-anchor="end">0.0</text>
<text x="394.4" y="354.7" font-size="9.1" font-weight="bold" stroke="#000" stroke-width="0.2" text-anchor="end">0.5</text>
<text x="394.4" y="328.7" font-size="9.1" font-weight="bold" stroke="#000" stroke-width="0.2" text-anchor="end">1.0</text>
<text x="394.4" y="302.7" font-size="9.1" font-weight="bold" stroke="#000" stroke-width="0.2" text-anchor="end">1.5</text>
<text x="413.79999999999995" y="308.3" font-size="9.2" font-weight="bold" stroke="#000" stroke-width="0.2" text-anchor="middle">a</text>
<text x="443.25" y="336.9" font-size="9.2" font-weight="bold" stroke="#000" stroke-width="0.2" text-anchor="middle">b</text>
<text x="473.1" y="317.0" font-size="9.2" font-weight="bold" stroke="#000" stroke-width="0.2" text-anchor="middle">a</text>
<text x="502.5" y="320.8" font-size="9.2" font-weight="bold" stroke="#000" stroke-width="0.2" text-anchor="middle">a</text>
<text x="378.3" y="339.6" font-size="9.45" font-weight="bold" stroke="#000" stroke-width="0.2" text-anchor="middle" transform="rotate(-90 378.3 339.6)">adj.rel.density</text>
<text x="417.59999999999997" y="386.0" font-size="9.9" font-weight="bold" stroke="#000" stroke-width="0.2" text-anchor="end" transform="rotate(-90 417.59999999999997 386.0)">pre-neg</text>
<text x="447.05" y="386.0" font-size="9.9" font-weight="bold" stroke="#000" stroke-width="0.2" text-anchor="end" transform="rotate(-90 447.05 386.0)">pre-378</text>
<text x="477.6" y="386.0" font-size="9.9" font-weight="bold" stroke="#000" stroke-width="0.2" text-anchor="end" transform="rotate(-90 477.6 386.0)">anti-neg</text>
<text x="507.40000000000003" y="386.0" font-size="9.9" font-weight="bold" stroke="#000" stroke-width="0.2" text-anchor="end" transform="rotate(-90 507.40000000000003 386.0)">anti-378</text>
</g>
</svg></body></html>
